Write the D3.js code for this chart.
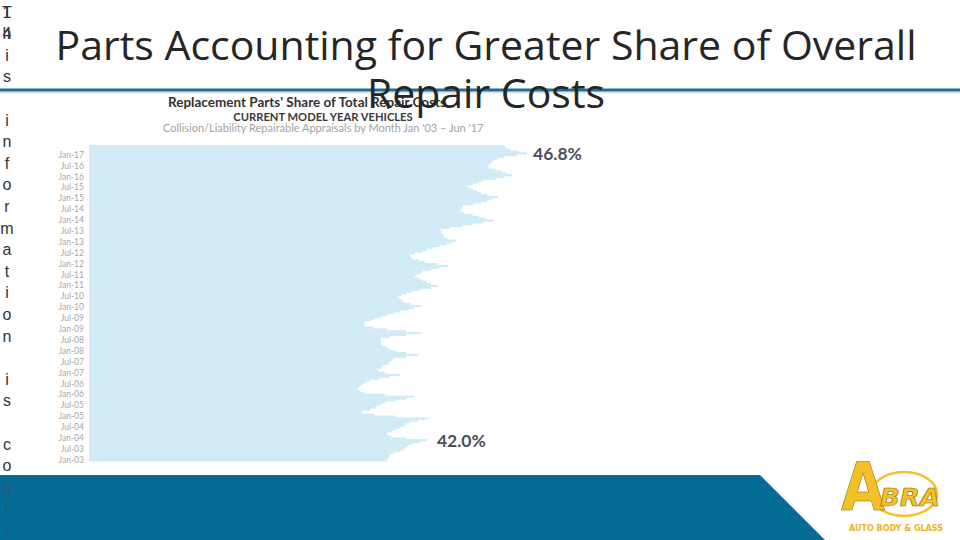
<!DOCTYPE html>
<html>
<head>
<meta charset="utf-8">
<script src="https://cdnjs.cloudflare.com/ajax/libs/d3/7.8.5/d3.min.js"></script>
<style>
  body { margin: 0; background: #fff; }
  svg { display: block; }
</style>
</head>
<body>
<div id="slide"></div>
<script>
// slide texts
const slideTitle = ["Parts Accounting for Greater Share of Overall", "Repair Costs"];
const chartTitle = "Replacement Parts' Share of Total Repair Costs";
const chartSub1 = "CURRENT MODEL YEAR VEHICLES";
const chartSub2 = "Collision/Liability Repairable Appraisals by Month Jan '03 \u2013 Jun '17";
const sideNote = "This information is confi";
const slideNo = "14";

// parts share of repair cost (%), Jan..Dec of each year
const years = [2003, 2004, 2005, 2006, 2007, 2008, 2009, 2010, 2011, 2012, 2013, 2014, 2015, 2016, 2017];
const share2003 = [40.1, 40.1, 40.2, 40.2, 40.4, 40.7, 40.9, 41.0, 41.1, 41.3, 41.7, 42.0];
const share2004 = [41.0, 40.3, 40.1, 40.1, 40.3, 40.5, 40.7, 40.9, 41.0, 41.2, 41.6, 42.1];
const share2005 = [40.5, 39.5, 38.9, 38.9, 39.3, 39.5, 39.6, 39.8, 40.0, 40.5, 41.0, 41.4];
const share2006 = [40.0, 39.0, 38.8, 38.7, 38.7, 38.8, 38.9, 39.1, 39.3, 39.7, 40.2, 40.7];
const share2007 = [40.0, 39.7, 39.6, 39.8, 39.9, 40.1, 40.2, 40.3, 40.4, 41.0, 41.6, 41.0];
const share2008 = [40.5, 40.2, 40.1, 39.9, 39.8, 39.8, 39.8, 39.8, 40.2, 41.0, 41.7, 41.0];
const share2009 = [40.1, 39.4, 39.0, 39.0, 39.0, 39.3, 39.5, 39.8, 40.1, 40.4, 40.7, 41.1];
const share2010 = [41.4, 41.7, 41.2, 40.9, 40.8, 40.7, 40.6, 40.8, 41.0, 41.3, 41.7, 42.2];
const share2011 = [42.5, 42.2, 42.0, 41.8, 41.6, 41.4, 41.5, 41.7, 41.8, 42.2, 42.6, 43.0];
const share2012 = [42.5, 41.9, 41.6, 41.3, 41.2, 41.2, 41.4, 41.8, 42.0, 42.3, 42.6, 42.9];
const share2013 = [43.2, 43.4, 43.0, 42.8, 42.8, 42.7, 42.7, 42.6, 43.1, 43.7, 44.2, 44.7];
const share2014 = [45.2, 44.8, 44.5, 44.2, 43.8, 43.6, 43.6, 43.7, 43.7, 44.2, 44.6, 44.9];
const share2015 = [45.1, 45.4, 44.9, 44.6, 44.4, 44.2, 44.0, 43.9, 44.2, 44.5, 44.7, 45.3];
const share2016 = [45.7, 46.1, 45.8, 45.6, 45.3, 45.0, 44.9, 45.0, 45.1, 45.2, 45.4, 45.7];
const share2017 = [46.3, 46.8, 46.4, 46.0, 45.8, 45.7];

const tickLabels = ["Jan-03", "Jul-03", "Jan-04", "Jul-04", "Jan-05", "Jul-05", "Jan-06", "Jul-06",
  "Jan-07", "Jul-07", "Jan-08", "Jul-08", "Jan-09", "Jul-09", "Jan-10", "Jul-10", "Jan-11", "Jul-11",
  "Jan-12", "Jul-12", "Jan-13", "Jul-13", "Jan-14", "Jul-14", "Jan-15", "Jul-15", "Jan-16", "Jul-16", "Jan-17"];

const callouts = [{ month: "Feb-17", text: "46.8%" }, { month: "Dec-03", text: "42.0%" }];

const monthAbbr = ["Jan", "Feb", "Mar", "Apr", "May", "Jun", "Jul", "Aug", "Sep", "Oct", "Nov", "Dec"];

// build one row per month
const yearly = [share2003, share2004, share2005, share2006, share2007, share2008, share2009, share2010,
  share2011, share2012, share2013, share2014, share2015, share2016, share2017];
var data = [];
yearly.forEach(function(vals, i) {
  vals.forEach(function(v, j) {
    data.push({ month: monthAbbr[j] + "-" + String(years[i]).slice(2), value: v });
  });
});

const W = 960, H = 540;
const svg = d3.select("#slide").append("svg")
  .attr("width", W)
  .attr("height", H);

svg.append("rect").attr("width", W).attr("height", H).attr("fill", "#fff");

// chart picture
var x = d3.scaleLinear()
  .domain([25.8, 46.8])
  .range([89, 527]);

var y = d3.scaleBand()
  .domain(data.map(function(d) { return d.month; }).reverse())
  .range([145, 461])
  .padding(0);

svg.append("g")
  .selectAll("rect")
  .data(data)
  .enter().append("rect")
  .attr("x", x(25.8))
  .attr("y", function(d) { return y(d.month); })
  .attr("width", function(d) { return x(d.value) - x(25.8); })
  .attr("height", y.bandwidth() + 0.4)
  .attr("fill", "#d0ebf6");

var yAxis = d3.axisLeft(y)
  .tickValues(tickLabels)
  .tickSize(0)
  .tickPadding(5);

var ax = svg.append("g")
  .attr("transform", "translate(" + x(25.8) + ",0)")
  .call(yAxis);
ax.select(".domain").remove();
ax.selectAll("text")
  .attr("font-family", "Lato, sans-serif")
  .attr("font-size", 8.5)
  .attr("fill", "#a6a6a6");

svg.append("g")
  .selectAll("text")
  .data(callouts)
  .enter().append("text")
  .attr("x", function(d) {
    var row = data.find(function(r) { return r.month === d.month; });
    return x(row.value) + (d.text === "42.0%" ? 10 : 6);
  })
  .attr("y", function(d) { return y(d.month) + y.bandwidth() / 2 + 7; })
  .attr("font-family", "Lato, sans-serif")
  .attr("font-weight", "bold")
  .attr("font-size", 17.5)
  .attr("fill", "#4b505b")
  .text(function(d) { return d.text; });

// chart picture headings
svg.append("text")
  .attr("x", 168).attr("y", 106.5)
  .attr("font-family", "Lato, sans-serif")
  .attr("font-weight", "bold")
  .attr("font-size", 13.5)
  .attr("fill", "#333")
  .text(chartTitle);

svg.append("text")
  .attr("x", 323).attr("y", 121)
  .attr("text-anchor", "middle")
  .attr("font-family", "Lato, sans-serif")
  .attr("font-weight", "bold")
  .attr("font-size", 11.2)
  .attr("fill", "#3a3a3a")
  .text(chartSub1);

svg.append("text")
  .attr("x", 163).attr("y", 132)
  .attr("font-family", "Lato, sans-serif")
  .attr("font-size", 11)
  .attr("fill", "#a3a3a3")
  .text(chartSub2);

// rule under the title
svg.append("rect").attr("x", 0).attr("y", 91.5).attr("width", W).attr("height", 2).attr("fill", "#dde3e7");
svg.append("rect").attr("x", 0).attr("y", 88.5).attr("width", W).attr("height", 3).attr("fill", "#226e8d");

// bottom band
svg.append("path")
  .attr("d", "M0,475 L760,475 L825,540 L0,540 Z")
  .attr("fill", "#046c95");

// side note, one letter per line
var side = svg.append("g")
  .attr("font-family", "'Liberation Sans', Arial, sans-serif")
  .attr("font-size", 16)
  .attr("text-anchor", "middle");
side.selectAll("text.note")
  .data(sideNote.split(""))
  .enter().append("text")
  .attr("class", "note")
  .attr("x", 7)
  .attr("y", function(d, i) { return 17.6 + i * 21.6; })
  .attr("fill", function(d, i) { return 17.6 + i * 21.6 > 478 ? "#2f5873" : "#333"; })
  .text(function(d) { return d; });
side.selectAll("text.num")
  .data(slideNo.split(""))
  .enter().append("text")
  .attr("class", "num")
  .attr("x", 7)
  .attr("y", function(d, i) { return 17.6 + i * 21.6; })
  .attr("fill", "#333")
  .text(function(d) { return d; });

// slide title
svg.append("g")
  .selectAll("text")
  .data(slideTitle)
  .enter().append("text")
  .attr("x", 486)
  .attr("y", function(d, i) { return 60 + i * 48; })
  .attr("text-anchor", "middle")
  .attr("font-family", "'Open Sans', sans-serif")
  .attr("font-size", 41)
  .attr("fill", "#262626")
  .text(function(d) { return d; });

// logo
var logo = svg.append("g");
var gold = "#f4c027";
logo.append("ellipse")
  .attr("cx", 904).attr("cy", 494).attr("rx", 33).attr("ry", 22)
  .attr("fill", "none").attr("stroke", gold).attr("stroke-width", 2.5);
logo.append("text")
  .attr("x", 841).attr("y", 510)
  .attr("font-family", "'DejaVu Sans', sans-serif")
  .attr("font-weight", "bold")
  .attr("font-size", 66)
  .attr("fill", gold).attr("stroke", "#8a6a10").attr("stroke-width", 0.6)
  .attr("textLength", 44).attr("lengthAdjust", "spacingAndGlyphs")
  .text("A");
logo.append("text")
  .attr("x", 880).attr("y", 506)
  .attr("font-family", "'DejaVu Sans', sans-serif")
  .attr("font-weight", "bold")
  .attr("font-style", "italic")
  .attr("font-size", 24)
  .attr("fill", gold).attr("stroke", "#8a6a10").attr("stroke-width", 0.6)
  .attr("textLength", 60).attr("lengthAdjust", "spacingAndGlyphs")
  .text("BRA");
logo.append("text")
  .attr("x", 849).attr("y", 531)
  .attr("font-family", "'DejaVu Sans', sans-serif")
  .attr("font-weight", "bold")
  .attr("font-size", 9)
  .attr("fill", "#eeb422")
  .attr("textLength", 94).attr("lengthAdjust", "spacingAndGlyphs")
  .text("AUTO BODY & GLASS");
</script>
</body>
</html>
